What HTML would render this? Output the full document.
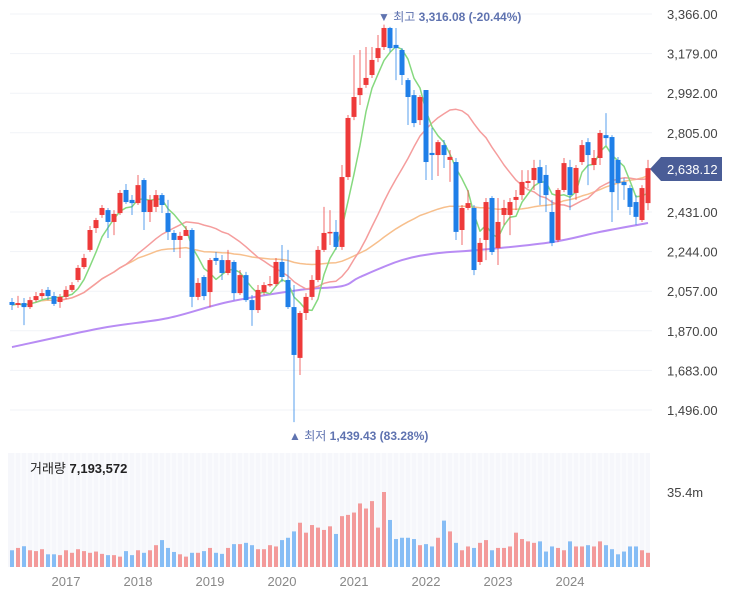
<!DOCTYPE html>
<html><head><meta charset="utf-8"><style>
html,body{margin:0;padding:0;background:#fff;}
svg{display:block;font-family:"Liberation Sans","Noto Sans CJK KR",sans-serif;}
</style></head><body>
<svg id="chart" width="732" height="593" viewBox="0 0 732 593">
<g id="grid"></g>
<rect x="8" y="453" width="642" height="114" fill="#f6f7fb"/>
<g id="vgrid"></g>
<g id="ma"></g>
<g id="candles"></g>
<g id="vol"></g>
<g id="yaxis"></g>
<g id="xaxis"></g>
<text x="378" y="21" font-size="12" fill="#5f73b0">▼ 최고 <tspan font-weight="bold">3,316.08 (-20.44%)</tspan></text>
<text x="289" y="440" font-size="12" fill="#5f73b0">▲ 최저 <tspan font-weight="bold">1,439.43 (83.28%)</tspan></text>
<text x="30" y="473" font-size="13" fill="#222">거래량 <tspan font-weight="bold">7,193,572</tspan></text>
<text x="667" y="497" font-size="13" fill="#444">35.4m</text>
<g>
<path d="M650,169 L661,157 L722,157 L722,181 L661,181 Z" fill="#4a5d97"/>
<text x="667" y="174" font-size="13" fill="#fff">2,638.12</text>
</g>
</svg>
<script>
const opens=[2006,1992,2001,1982,2015,2034,2063,2034,2006,2030,2063,2110,2171,2252,2355,2417,2440,2384,2426,2535,2488,2473,2582,2431,2455,2511,2426,2332,2299,2318,2346,2030,2124,2053,2214,2204,2143,2195,2048,2133,2015,1968,2053,2086,2091,2195,2110,1982,1742,1954,2030,2110,2252,2332,2337,2266,2596,2880,2983,3031,3078,3158,3210,3300,3220,3196,3054,2983,2865,3007,2710,2700,2747,2677,2667,2346,2450,2450,2195,2299,2497,2261,2417,2417,2488,2511,2568,2582,2643,2606,2431,2299,2535,2643,2521,2667,2761,2653,2686,2794,2785,2677,2573,2544,2478,2393,2473];
const highs=[2025,2035,2025,2030,2053,2067,2077,2053,2044,2081,2100,2181,2233,2365,2403,2464,2450,2440,2535,2563,2511,2606,2591,2511,2535,2521,2488,2346,2337,2365,2355,2119,2133,2214,2242,2228,2252,2204,2157,2148,2039,2086,2100,2129,2214,2275,2252,2086,1964,2048,2133,2270,2455,2440,2393,2653,2889,3172,3196,3210,3210,3267,3316,3305,3300,3205,3064,3007,2983,3007,2828,2771,2771,2724,2686,2464,2535,2464,2308,2497,2506,2497,2488,2497,2535,2629,2629,2677,2677,2653,2488,2544,2686,2677,2653,2771,2780,2724,2818,2898,2794,2691,2591,2558,2511,2558,2677];
const lows=[1968,1978,1897,1973,2006,2020,2015,1987,1978,2020,2053,2100,2162,2242,2332,2403,2308,2322,2417,2469,2417,2464,2346,2384,2431,2426,2299,2242,2214,2318,1982,2015,2015,1982,2181,2110,2133,2015,2039,2006,1893,1954,2039,2077,2081,2100,1973,1439,1661,1921,2015,2100,2242,2275,2252,2252,2582,2865,2936,3017,3064,3139,3196,3187,3054,3031,2842,2832,2842,2582,2582,2601,2639,2573,2299,2275,2440,2133,2181,2204,2228,2181,2370,2322,2440,2488,2544,2535,2464,2431,2270,2289,2525,2440,2488,2653,2558,2629,2653,2747,2384,2440,2488,2417,2370,2384,2440];
const closes=[1992,2001,1982,2015,2034,2048,2034,1997,2030,2063,2086,2167,2214,2346,2393,2450,2384,2422,2521,2478,2473,2558,2431,2488,2511,2464,2337,2299,2318,2346,2030,2096,2034,2204,2200,2143,2204,2048,2133,2015,1968,2063,2086,2091,2195,2124,1982,1756,1954,2030,2110,2252,2332,2337,2266,2596,2875,2974,3017,3064,3149,3205,3300,3205,3205,3078,2974,2851,2974,2667,2700,2761,2700,2691,2337,2450,2473,2157,2285,2478,2242,2384,2450,2478,2502,2573,2577,2639,2568,2511,2285,2535,2662,2511,2639,2747,2700,2686,2804,2780,2525,2568,2558,2455,2408,2544,2638.12];
const volumes=[7.9,9.0,9.8,7.9,7.5,8.4,6.0,6.0,5.6,7.9,6.7,8.4,7.5,6.7,7.3,6.2,5.6,5.6,4.9,7.5,5.6,7.9,6.7,7.9,10.3,12.7,9.0,7.1,6.0,4.9,6.7,6.7,7.5,9.0,6.7,6.2,9.0,10.8,10.8,11.4,10.3,8.4,8.4,10.3,9.7,12.7,13.8,16.8,20.9,16.2,19.8,18.6,17.5,19.2,15.6,24.0,24.6,25.7,30.0,27.6,31.1,18.6,35.4,22.2,13.2,13.8,13.8,13.2,10.3,10.8,9.7,13.8,21.9,16.8,11.4,7.9,9.7,9.0,11.4,12.7,7.9,9.0,9.0,9.7,16.2,13.2,12.1,11.4,12.1,7.3,9.7,9.0,7.9,12.1,9.7,9.7,10.3,9.7,12.1,10.3,8.4,6.0,7.3,9.7,9.7,7.9,6.7];
const purpleIdx=[0,15,26,36,48,55,58,65,71,78,90,98,106];
const purpleVal=[1793,1883,1930,2006,2063,2081,2124,2204,2237,2252,2289,2337,2379];
const yTicks=[3366,3179,2992,2805,2431,2244,2057,1870,1683,1496];
const yearLabels=["2017","2018","2019","2020","2021","2022","2023","2024"];
const yearIdx=[9,21,33,45,57,69,81,93];

const NS="http://www.w3.org/2000/svg";
function mk(tag,attrs,parent){const e=document.createElementNS(NS,tag);for(const k in attrs)e.setAttribute(k,attrs[k]);parent.appendChild(e);return e;}
const xS=i=>12+6*i;
const yS=v=>14+(3366-v)*396/1870;
const vS=v=>567-v*75/35.4;

const grid=document.getElementById('grid'),yaxis=document.getElementById('yaxis');
yTicks.forEach(t=>{
  const g=mk('line',{x1:10,x2:652,y1:yS(t),y2:yS(t),stroke:'#f1f3f7','stroke-width':1},grid);
  
  
  const tx=mk('text',{x:667,y:yS(t)+5,'font-size':13,fill:'#444'},yaxis);
  tx.textContent=t.toLocaleString('en-US',{minimumFractionDigits:2,maximumFractionDigits:2});
  
  
});
const vgrid=document.getElementById('vgrid');
closes.forEach((c,i)=>{
  const l=mk('line',{x1:xS(i)+3,x2:xS(i)+3,y1:453,y2:567,stroke:'#ffffff','stroke-width':1},vgrid);
  
  
});

function ma(n){return closes.map((c,i)=>{const s=Math.max(0,i-n+1);let t=0;for(let j=s;j<=i;j++)t+=closes[j];return t/(i-s+1);});}
function poly(vals,color,name,start){
  const pts=vals.map((v,i)=>i>=start?xS(i)+','+yS(v).toFixed(1):null).filter(Boolean).join(' ');
  const p=mk('polyline',{points:pts,fill:'none',stroke:color,'stroke-width':1.5,'stroke-linejoin':'round'},document.getElementById('ma'));
  
  
}
// purple long MA through knots (Catmull-Rom smoothing)
(function(){
  const P=purpleIdx.map((ix,k)=>[xS(ix),yS(purpleVal[k])]);
  let d='M'+P[0][0]+','+P[0][1];
  for(let k=0;k<P.length-1;k++){
    const p0=P[Math.max(0,k-1)],p1=P[k],p2=P[k+1],p3=P[Math.min(P.length-1,k+2)];
    const c1=[p1[0]+(p2[0]-p0[0])/6,p1[1]+(p2[1]-p0[1])/6];
    const c2=[p2[0]-(p3[0]-p1[0])/6,p2[1]-(p3[1]-p1[1])/6];
    d+=' C'+c1[0].toFixed(1)+','+c1[1].toFixed(1)+' '+c2[0].toFixed(1)+','+c2[1].toFixed(1)+' '+p2[0]+','+p2[1].toFixed(1);
  }
  const p=mk('path',{d:d,fill:'none',stroke:'#b88cf4','stroke-width':2},document.getElementById('ma'));
  
  
})();
poly(ma(60),'#f7bf8c','ma-60-line',0);
poly(ma(20),'#f59d9d','ma-20-line',8);
poly(ma(5),'#86d97f','ma-5-line',0);

const cg=document.getElementById('candles'),vg=document.getElementById('vol');
closes.forEach((c,i)=>{
  const o=opens[i],up=c>=o,col=up?'#ee3a3a':'#1f7fe8';
  const x=xS(i);
  const w=mk('line',{x1:x,x2:x,y1:yS(highs[i]),y2:yS(lows[i]),stroke:col,'stroke-width':1,opacity:0.75},cg);
  
  
  const top=yS(Math.max(o,c)),bh=Math.max(1.5,Math.abs(yS(o)-yS(c)));
  const b=mk('rect',{x:x-2.5,y:top,width:5,height:bh,fill:col},cg);
  
  
  const vy=vS(volumes[i]);
  const vb=mk('rect',{x:x-2,y:vy,width:4,height:567-vy,fill:up?'#f39a9a':'#86bdf5'},vg);
  
  
});
const xa=document.getElementById('xaxis');
yearLabels.forEach((yl,k)=>{
  const t=mk('text',{x:xS(yearIdx[k]),y:586,'font-size':13,fill:'#888','text-anchor':'middle'},xa);
  t.textContent=yl;
  
  
});
</script>
</body></html>
